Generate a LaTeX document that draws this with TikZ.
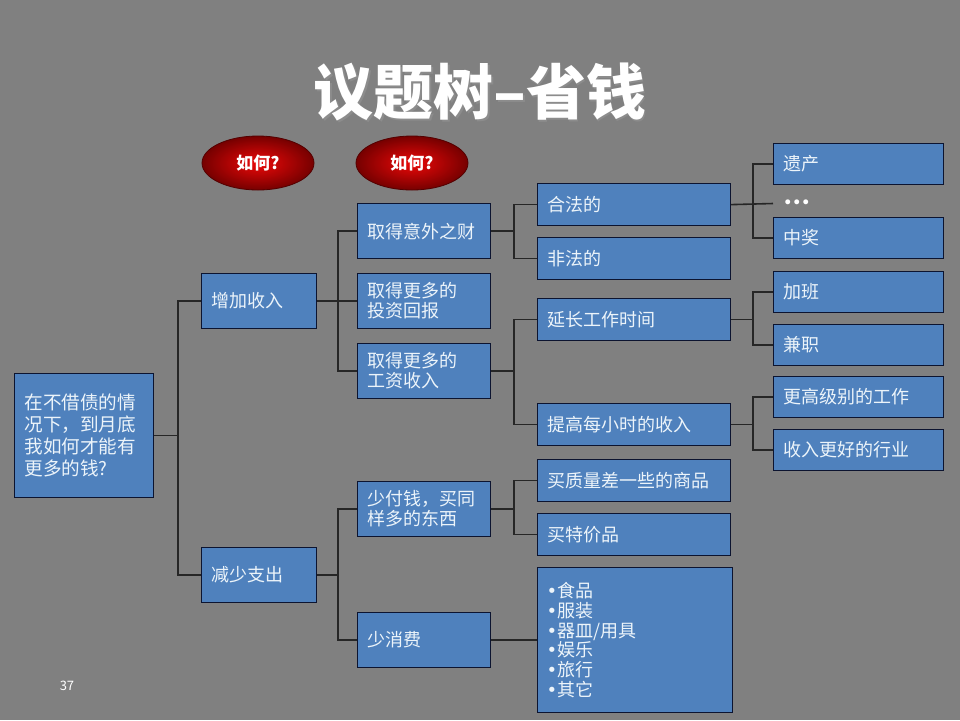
\documentclass[tikz,border=0pt]{standalone}
\usepackage{fontspec}
\setmainfont{Noto Sans CJK SC}
\newfontfamily\dotfont{DejaVu Sans}
\usepackage{tikz}
\usepackage{xcolor}
\usetikzlibrary{
  arrows.meta, shapes.geometric,
  positioning, calc
}
\definecolor{SlideGray}{RGB}{128,128,128}
\definecolor{BoxBlue}{RGB}{79,129,189}
\definecolor{BoxLine}{RGB}{12,20,48}
\definecolor{BoxText}{RGB}{236,244,250}
\definecolor{HowRed}{RGB}{236,8,8}
\definecolor{HowDark}{RGB}{118,0,0}
\newcommand{\itemdot}{{\dotfont •}}

\begin{document}
\begin{tikzpicture}[x=0.5pt,y=-0.5pt,
        box/.style={draw=BoxLine,fill=BoxBlue,text=BoxText,line width=0.6pt,
                    font=\fontsize{9}{10}\selectfont,align=left,anchor=north west,
                    inner xsep=5pt,inner ysep=2pt},
        rootbox/.style={box,text width=59.5pt,minimum height=62pt,
                        font=\fontsize{9.3}{11}\selectfont},
        lvlone/.style={box,text width=47.5pt,minimum height=27.5pt},
        lvltwo/.style={box,text width=56.5pt,minimum height=27.5pt},
        lvlthree/.style={box,text width=86.5pt,minimum height=21pt},
        lvlfour/.style={box,text width=75pt,minimum height=20.5pt},
        how/.style={ellipse,draw=HowDark!70!black,inner color=HowRed,outer color=HowDark,
                    minimum width=56pt,minimum height=27pt,inner sep=0pt,
                    text=white,font=\fontsize{8.5}{9}\selectfont\bfseries},
        link/.style={draw=black!85,line width=0.8pt}
      ]
        \fill[SlideGray] (0,0) rectangle (960,720);
        \useasboundingbox (0,0) rectangle (960,720);

        % title
        \node[font=\fontsize{30}{32}\selectfont\bfseries,text=black!45] (titleshadow) at (481.5,93.5) {议题树–省钱};
        \node[font=\fontsize{30}{32}\selectfont\bfseries,text=white] (title) at (480,92) {议题树–省钱};
        \node[how] (howa) at (258,163) {如何?};
        \node[how] (howb) at (412,163) {如何?};

        % tree
        \node[rootbox] (root) at (14,373) {在不借债的情\\况下，到月底\\我如何才能有\\更多的钱?};
        \node[lvlone] (incr) at (201,273) {增加收入};
        \node[lvlone] (cut)  at (201,547) {减少支出};
        \node[lvltwo] (windfall) at (357,203) {取得意外之财};
        \node[lvltwo] (invest)   at (357,273) {取得更多的\\投资回报};
        \node[lvltwo] (wage)     at (357,343) {取得更多的\\工资收入};
        \node[lvltwo] (samebuy)  at (357,481) {少付钱，买同\\样多的东西};
        \node[lvltwo] (lessuse)  at (357,612) {少消费};
        \node[lvlthree] (legal)   at (537,183) {合法的};
        \node[lvlthree] (illegal) at (537,237) {非法的};
        \node[lvlthree] (longer)  at (537,298) {延长工作时间};
        \node[lvlthree] (hourly)  at (537,403) {提高每小时的收入};
        \node[lvlthree] (cheaper) at (537,459) {买质量差一些的商品};
        \node[lvlthree] (sale)    at (537,513) {买特价品};
        \node[box,text width=88.5pt,minimum height=72.5pt,inner xsep=4.5pt,
              font=\fontsize{9}{9.9}\selectfont] (items) at (537,567)
              {\itemdot{}食品\\\itemdot{}服装\\\itemdot{}器皿/用具\\\itemdot{}娱乐\\\itemdot{}旅行\\\itemdot{}其它};
        \node[lvlfour] (inherit)  at (773,143) {遗产};
        \node[text=white,font=\dotfont\fontsize{7}{8}\selectfont\bfseries,anchor=west,inner sep=5pt] (more) at (773,203.5) {•••};
        \node[lvlfour] (lottery)  at (773,217) {中奖};
        \node[lvlfour] (overtime) at (773,271) {加班};
        \node[lvlfour] (parttime) at (773,324) {兼职};
        \node[lvlfour] (higher)   at (773,376) {更高级别的工作};
        \node[lvlfour] (better)   at (773,429) {收入更好的行业};

        \node[text=white,font=\fontsize{6.5}{7}\selectfont] (pageno) at (67,686) {37};

        % connectors
        \draw[link] (root.east) -- ++(24,0) |- (incr.west);
        \draw[link] (root.east) -- ++(24,0) |- (cut.west);
        \draw[link] (incr.east) -- ++(21,0) |- (windfall.west);
        \draw[link] (incr.east) -- ++(21,0) |- (invest.west);
        \draw[link] (incr.east) -- ++(21,0) |- (wage.west);
        \draw[link] (cut.east) -- ++(21,0) |- (samebuy.west);
        \draw[link] (cut.east) -- ++(21,0) |- (lessuse.west);
        \draw[link] (windfall.east) -- ++(23,0) |- (legal.west);
        \draw[link] (windfall.east) -- ++(23,0) |- (illegal.west);
        \draw[link] (wage.east) -- ++(23,0) |- (longer.west);
        \draw[link] (wage.east) -- ++(23,0) |- (hourly.west);
        \draw[link] (samebuy.east) -- ++(23,0) |- (cheaper.west);
        \draw[link] (samebuy.east) -- ++(23,0) |- (sale.west);
        \draw[link] (lessuse.east) -- (items.west);
        \draw[link] (legal.east) -- ++(22,0) |- (inherit.west);
        \draw[link] (legal.east) -- ++(22,0) |- (lottery.west);
        \draw[link] (legal.east) -- (more.west);
        \draw[link] (longer.east) -- ++(22,0) |- (overtime.west);
        \draw[link] (longer.east) -- ++(22,0) |- (parttime.west);
        \draw[link] (hourly.east) -- ++(22,0) |- (higher.west);
        \draw[link] (hourly.east) -- ++(22,0) |- (better.west);
      \end{tikzpicture}
\end{document}
